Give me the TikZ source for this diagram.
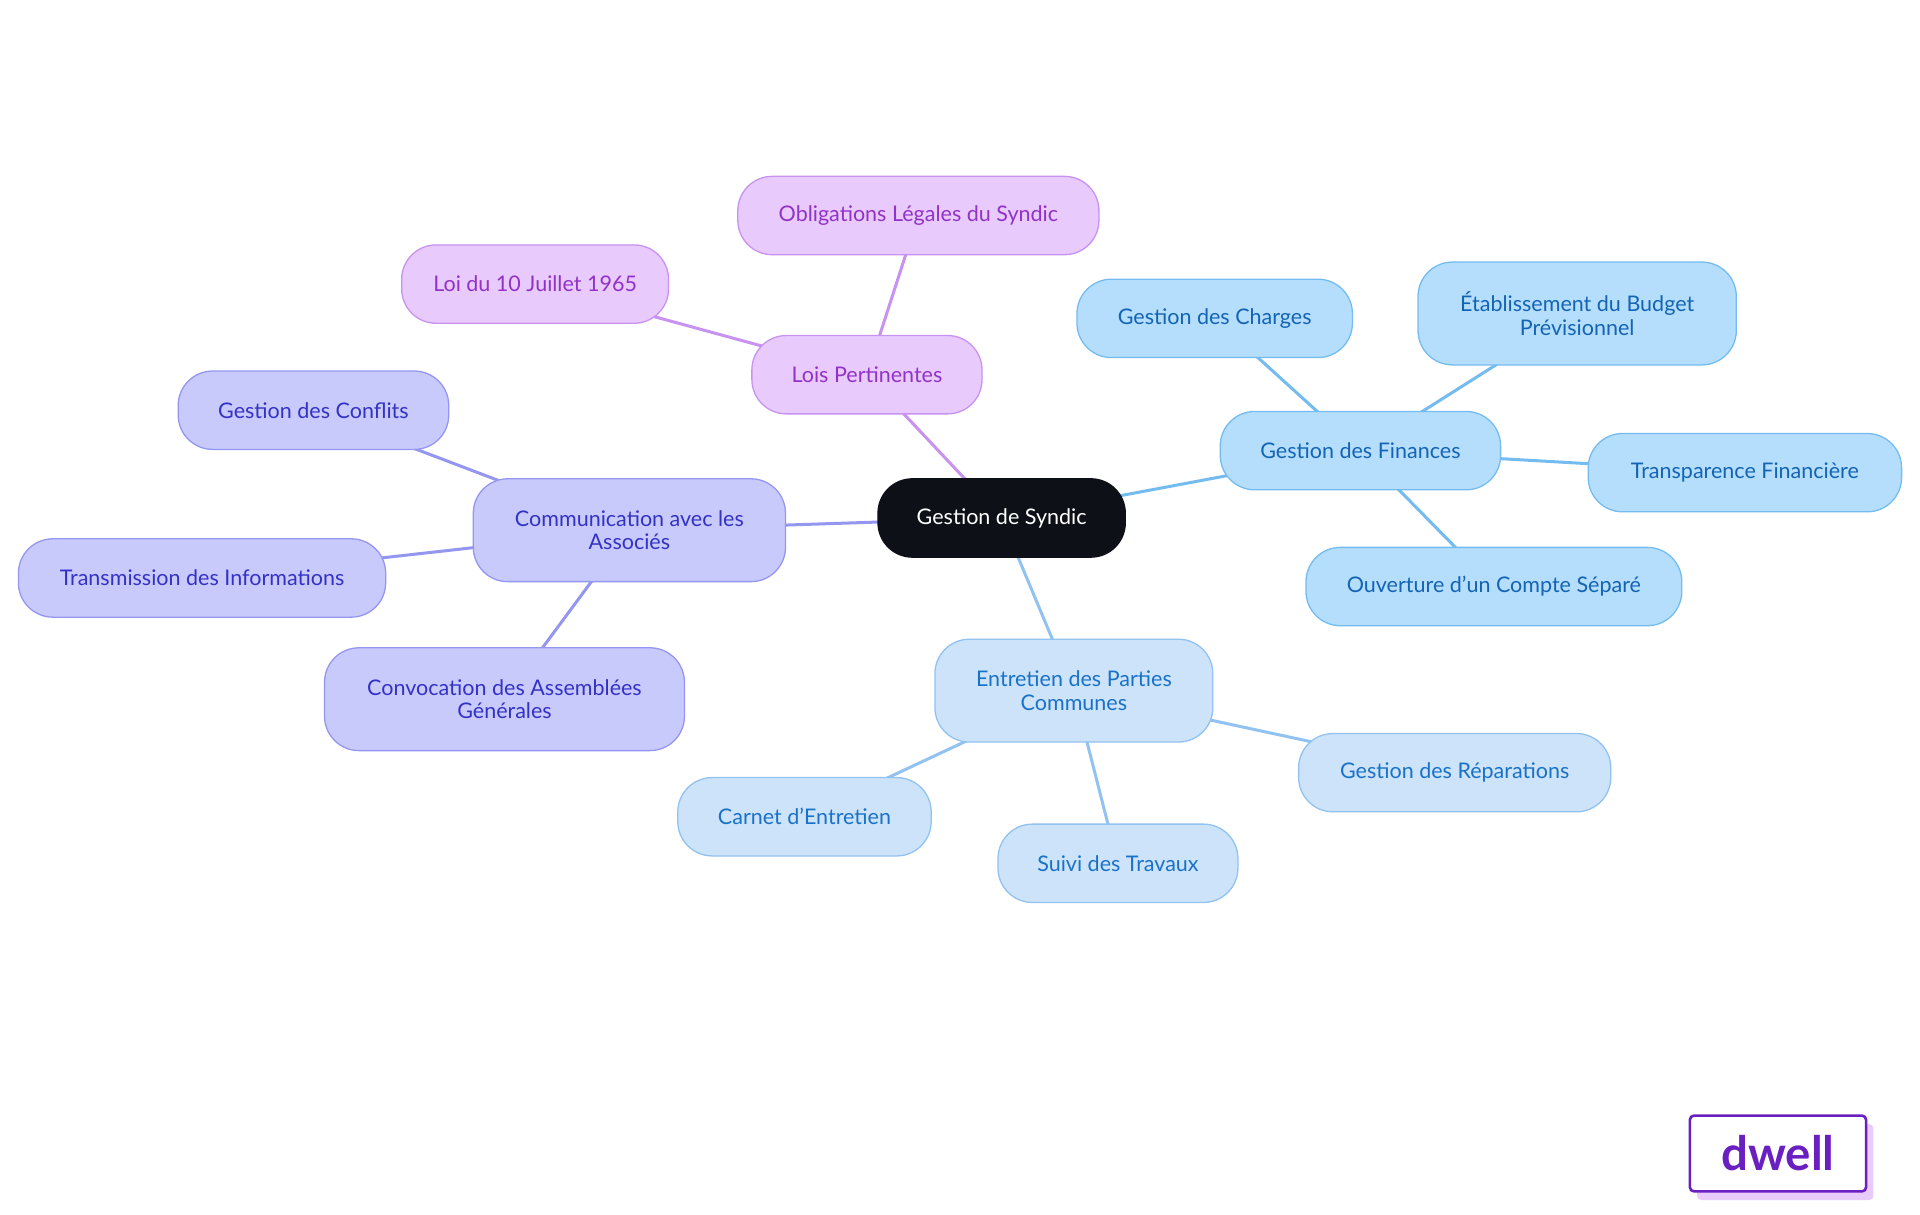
\documentclass[tikz,border=0pt]{standalone}
\usepackage{fontspec}
\setmainfont{Lato}
\usetikzlibrary{positioning,backgrounds}
\definecolor{rootfill}{HTML}{0D1117}
\definecolor{lawfill}{HTML}{E8CAFC}\definecolor{lawline}{HTML}{C892F0}\definecolor{lawtext}{HTML}{9232C8}
\definecolor{comfill}{HTML}{C9CAFC}\definecolor{comline}{HTML}{9496F0}\definecolor{comtext}{HTML}{3432C4}
\definecolor{finfill}{HTML}{B4DEFC}\definecolor{finline}{HTML}{74BCF0}\definecolor{fintext}{HTML}{1464B4}
\definecolor{entfill}{HTML}{CCE3FA}\definecolor{entline}{HTML}{92C2F0}\definecolor{enttext}{HTML}{1A72C8}
\definecolor{logo}{HTML}{6A1FC0}
\begin{document}
\begin{tikzpicture}[x=0.02cm,y=-0.02cm,
    every node/.style={font=\fontsize{10}{11}\selectfont, align=center, rounded corners=16pt, minimum height=1.28cm, line width=0.6pt},
    root/.style={fill=rootfill, draw=rootfill, text=white},
    law/.style={fill=lawfill, draw=lawline, text=lawtext},
    com/.style={fill=comfill, draw=comline, text=comtext},
    fin/.style={fill=finfill, draw=finline, text=fintext},
    ent/.style={fill=entfill, draw=entline, text=enttext},
    link/.style={line width=1.4pt}]
  \useasboundingbox (0,0) rectangle (1568,992);

  \node[root, minimum width=4.04cm] (root) at (818,423) {Gestion de Syndic};

  % lois
  \node[law, minimum width=3.76cm] (lois) at (708,306) {Lois Pertinentes};
  \node[law, minimum width=5.9cm] (oblig) at (750,176) {Obligations Légales du Syndic};
  \node[law, minimum width=4.36cm] (loi) at (437,232) {Loi du 10 Juillet 1965};

  % communication
  \node[com, minimum width=5.1cm, minimum height=1.68cm] (comm) at (514,433) {Communication avec les\\Associés};
  \node[com, minimum width=4.42cm] (conf) at (256,335) {Gestion des Conflits};
  \node[com, minimum width=6cm] (trans) at (165,472) {Transmission des Informations};
  \node[com, minimum width=5.88cm, minimum height=1.68cm] (conv) at (412,571) {Convocation des Assemblées\\Générales};

  % finances
  \node[fin, minimum width=4.58cm] (fin) at (1111,368) {Gestion des Finances};
  \node[fin, minimum width=4.5cm] (charg) at (992,260) {Gestion des Charges};
  \node[fin, minimum width=5.2cm, minimum height=1.68cm] (budg) at (1288,256) {Établissement du Budget\\Prévisionnel};
  \node[fin, minimum width=5.12cm] (transp) at (1425,386) {Transparence Financière};
  \node[fin, minimum width=6.14cm] (compte) at (1220,479) {Ouverture d'un Compte Séparé};

  % entretien
  \node[ent, minimum width=4.54cm, minimum height=1.68cm] (entr) at (877,564) {Entretien des Parties\\Communes};
  \node[ent, minimum width=5.1cm] (repar) at (1188,631) {Gestion des Réparations};
  \node[ent, minimum width=4.14cm] (carnet) at (657,667) {Carnet d'Entretien};
  \node[ent, minimum width=3.92cm] (suivi) at (913,705) {Suivi des Travaux};

  \begin{scope}[on background layer]
    \draw[link, lawline] (root.center) -- (lois.center) (lois.center) -- (oblig.center) (lois.center) -- (loi.center);
    \draw[link, comline] (root.center) -- (comm.center) (comm.center) -- (conf.center) (comm.center) -- (trans.center) (comm.center) -- (conv.center);
    \draw[link, finline] (root.center) -- (fin.center) (fin.center) -- (charg.center) (fin.center) -- (budg.center) (fin.center) -- (transp.center) (fin.center) -- (compte.center);
    \draw[link, entline] (root.center) -- (entr.center) (entr.center) -- (repar.center) (entr.center) -- (carnet.center) (entr.center) -- (suivi.center);
  \end{scope}

  % logo
  \fill[lawfill, rounded corners=2pt] (1386,918) rectangle (1530,980);
  \node[draw=logo, fill=white, text=logo, line width=1.2pt, rounded corners=2pt, minimum width=2.88cm, minimum height=1.24cm, font=\fontsize{22}{24}\selectfont\bfseries] (dwell) at (1452,942) {dwell};
\end{tikzpicture}
\end{document}
